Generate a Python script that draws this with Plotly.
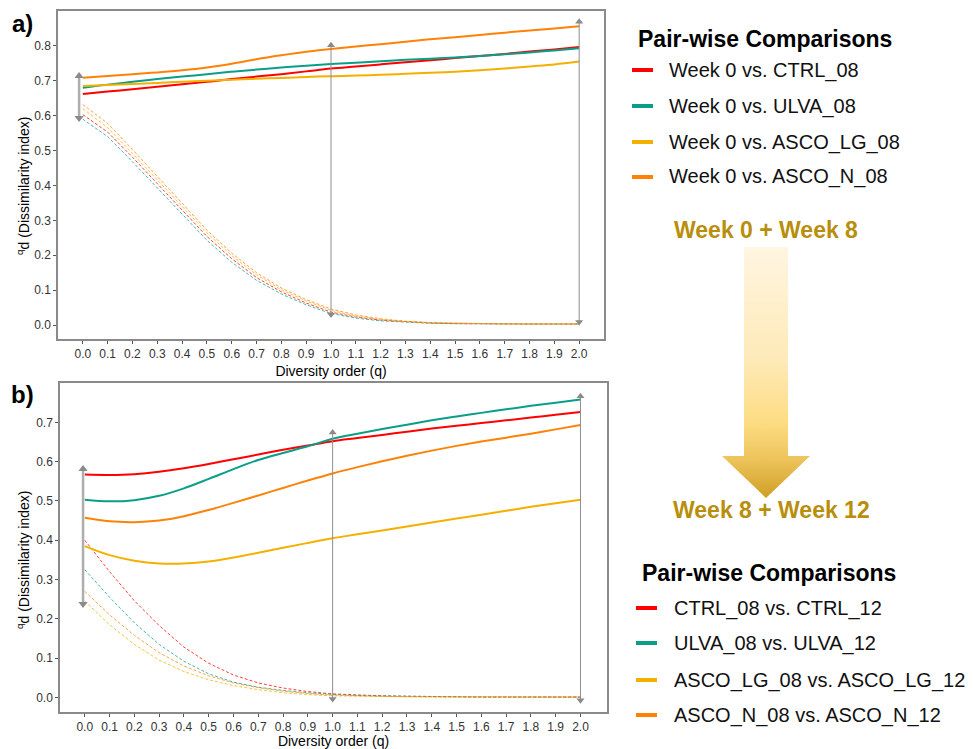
import plotly.graph_objects as go

W, H = 973, 749

# ---------------- data ----------------
q = [round(i * 0.1, 1) for i in range(21)]

series_names = ["CTRL", "ULVA", "ASCO_LG", "ASCO_N"]
colors = {"CTRL": "#FF0000", "ULVA": "#0A9E88", "ASCO_LG": "#F3B000", "ASCO_N": "#FF8207"}

legend_a = ["Week 0 vs. CTRL_08", "Week 0 vs. ULVA_08", "Week 0 vs. ASCO_LG_08", "Week 0 vs. ASCO_N_08"]
legend_b = ["CTRL_08 vs. CTRL_12", "ULVA_08 vs. ULVA_12", "ASCO_LG_08 vs. ASCO_LG_12", "ASCO_N_08 vs. ASCO_N_12"]

# panel a, solid lines (dissimilarity)
a_solid = {
    "CTRL":    [0.662, 0.669, 0.676, 0.683, 0.690, 0.697, 0.705, 0.712, 0.719, 0.727, 0.735, 0.741, 0.747, 0.753, 0.759, 0.765, 0.771, 0.777, 0.784, 0.790, 0.797],
    "ULVA":    [0.680, 0.689, 0.697, 0.705, 0.712, 0.719, 0.726, 0.732, 0.738, 0.743, 0.748, 0.752, 0.756, 0.760, 0.763, 0.767, 0.771, 0.776, 0.781, 0.787, 0.793],
    "ASCO_LG": [0.685, 0.688, 0.691, 0.694, 0.697, 0.700, 0.703, 0.706, 0.708, 0.711, 0.713, 0.715, 0.717, 0.720, 0.723, 0.726, 0.730, 0.735, 0.741, 0.747, 0.755],
    "ASCO_N":  [0.709, 0.714, 0.719, 0.724, 0.730, 0.738, 0.749, 0.762, 0.773, 0.783, 0.791, 0.798, 0.805, 0.812, 0.819, 0.825, 0.831, 0.838, 0.844, 0.850, 0.856],
}
# panel a, dashed lines
a_dash = {
    "CTRL":    [0.603, 0.553, 0.481, 0.405, 0.327, 0.254, 0.190, 0.136, 0.095, 0.063, 0.037, 0.023, 0.014, 0.009, 0.006, 0.004, 0.003, 0.003, 0.003, 0.003, 0.003],
    "ULVA":    [0.590, 0.540, 0.468, 0.393, 0.315, 0.243, 0.180, 0.128, 0.089, 0.058, 0.033, 0.020, 0.012, 0.008, 0.005, 0.004, 0.003, 0.003, 0.003, 0.003, 0.003],
    "ASCO_LG": [0.620, 0.566, 0.492, 0.416, 0.338, 0.264, 0.199, 0.144, 0.101, 0.069, 0.042, 0.026, 0.016, 0.010, 0.007, 0.005, 0.004, 0.003, 0.003, 0.003, 0.003],
    "ASCO_N":  [0.632, 0.578, 0.503, 0.426, 0.347, 0.272, 0.206, 0.150, 0.106, 0.073, 0.046, 0.029, 0.018, 0.011, 0.007, 0.005, 0.004, 0.003, 0.003, 0.003, 0.003],
}
# panel b, solid lines
b_solid = {
    "CTRL":    [0.567, 0.566, 0.568, 0.574, 0.583, 0.594, 0.606, 0.618, 0.630, 0.641, 0.652, 0.660, 0.668, 0.676, 0.684, 0.691, 0.698, 0.705, 0.712, 0.719, 0.726],
    "ULVA":    [0.503, 0.499, 0.502, 0.513, 0.532, 0.556, 0.581, 0.604, 0.622, 0.639, 0.658, 0.671, 0.683, 0.694, 0.705, 0.715, 0.724, 0.733, 0.742, 0.750, 0.758],
    "ASCO_LG": [0.385, 0.362, 0.348, 0.341, 0.341, 0.346, 0.356, 0.368, 0.381, 0.393, 0.405, 0.415, 0.425, 0.435, 0.445, 0.455, 0.465, 0.475, 0.485, 0.494, 0.503],
    "ASCO_N":  [0.457, 0.448, 0.446, 0.450, 0.461, 0.477, 0.495, 0.514, 0.533, 0.552, 0.570, 0.586, 0.601, 0.615, 0.628, 0.640, 0.651, 0.661, 0.671, 0.682, 0.693],
}
# panel b, dashed lines
b_dash = {
    "CTRL":    [0.400, 0.320, 0.246, 0.183, 0.128, 0.087, 0.057, 0.037, 0.024, 0.015, 0.009, 0.006, 0.004, 0.003, 0.002, 0.002, 0.001, 0.001, 0.001, 0.001, 0.001],
    "ULVA":    [0.325, 0.255, 0.190, 0.135, 0.092, 0.060, 0.039, 0.026, 0.018, 0.012, 0.008, 0.005, 0.004, 0.003, 0.002, 0.002, 0.001, 0.001, 0.001, 0.001, 0.001],
    "ASCO_LG": [0.245, 0.185, 0.135, 0.095, 0.066, 0.045, 0.030, 0.020, 0.012, 0.007, 0.004, 0.003, 0.002, 0.002, 0.001, 0.001, 0.001, 0.001, 0.001, 0.001, 0.001],
    "ASCO_N":  [0.270, 0.210, 0.158, 0.114, 0.080, 0.055, 0.037, 0.025, 0.016, 0.010, 0.006, 0.004, 0.003, 0.002, 0.002, 0.001, 0.001, 0.001, 0.001, 0.001, 0.001],
}

# range arrows (q position, low, high)
a_arrow_q = [-0.015, 1.0, 2.0]
a_arrow_lo = [0.593, 0.030, 0.009]
a_arrow_hi = [0.714, 0.802, 0.869]
b_arrow_q = [-0.007, 1.0, 2.0]
b_arrow_lo = [0.238, -0.004, -0.007]
b_arrow_hi = [0.581, 0.674, 0.766]

x_ticks = [round(i * 0.1, 1) for i in range(21)]
x_tick_text = ["%.1f" % v for v in x_ticks]
a_y_ticks = [round(i * 0.1, 1) for i in range(9)]
b_y_ticks = [round(i * 0.1, 1) for i in range(8)]

x_title = "Diversity order (q)"
y_title = "<sup>q</sup>d (Dissimilarity index)"

# ---------------- helpers ----------------
def px(x):
    return x / W

def py(y):
    return 1 - y / H

FONT = "Liberation Sans, Arial, Helvetica, sans-serif"

fig = go.Figure()

def add_panel(solid, dash, xa, ya):
    for s in series_names:
        fig.add_trace(go.Scatter(x=q, y=dash[s], mode="lines", xaxis=xa, yaxis=ya,
                                 line=dict(color=colors[s], width=1, dash="3px,2px"),
                                 opacity=0.75, showlegend=False, hoverinfo="skip"))
    for s in series_names:
        fig.add_trace(go.Scatter(x=q, y=solid[s], mode="lines", xaxis=xa, yaxis=ya,
                                 line=dict(color=colors[s], width=2, shape="spline"),
                                 showlegend=False, hoverinfo="skip"))

def add_arrows(qs, lo, hi, xa, ya):
    for i, (xq, l, h) in enumerate(zip(qs, lo, hi)):
        first = i == 0
        fig.add_trace(go.Scatter(
            x=[xq, xq], y=[l, h], mode="lines+markers", xaxis=xa, yaxis=ya,
            line=dict(color="#ADADAD" if first else "#8E8E8E", width=2.5 if first else 1),
            marker=dict(symbol=["triangle-down", "triangle-up"], size=8 if first else 7,
                        color="#8A8A8A", line=dict(width=0)),
            showlegend=False, hoverinfo="skip"))

add_panel(a_solid, a_dash, "x", "y")
add_panel(b_solid, b_dash, "x2", "y2")
add_arrows(a_arrow_q, a_arrow_lo, a_arrow_hi, "x", "y")
add_arrows(b_arrow_q, b_arrow_lo, b_arrow_hi, "x2", "y2")

# gradient arrow between the two legends (drawn on a hidden helper axis in pixel units)
fig.add_trace(go.Scatter(
    x=[744, 788, 788, 810, 766, 722, 744, 744],
    y=[247, 247, 456, 456, 498, 456, 456, 247],
    xaxis="x3", yaxis="y3", mode="lines", line=dict(width=0),
    fill="toself",
    fillgradient=dict(type="vertical",
                      colorscale=[[0, "#CF9E25"], [0.15, "#ECC35A"], [0.3, "#FDDC82"], [0.55, "#FEEAB8"], [1, "#FFF5E1"]]),
    showlegend=False, hoverinfo="skip"))

axis_common = dict(showgrid=False, zeroline=False, showline=True, mirror=True,
                   linecolor="#8A8A8A", linewidth=1.5, ticks="outside", ticklen=3,
                   tickcolor="#555555", tickfont=dict(family=FONT, size=12, color="#333333"))
xt = dict(text=x_title, font=dict(family=FONT, size=14, color="black"), standoff=6)

fig.update_layout(
    width=W, height=H,
    margin=dict(l=0, r=0, t=0, b=0),
    paper_bgcolor="white", plot_bgcolor="white",
    showlegend=False,
    font=dict(family=FONT),
    xaxis=dict(domain=[px(58), px(604)], range=[-0.1, 2.1], anchor="y", title=xt,
               tickvals=x_ticks, ticktext=x_tick_text, **axis_common),
    yaxis=dict(domain=[py(339), py(11)], range=[-0.04, 0.9], anchor="x",
               tickvals=a_y_ticks, tickformat=".1f", **axis_common),
    xaxis2=dict(domain=[px(60), px(607)], range=[-0.1, 2.107], anchor="y2", title=xt,
                tickvals=x_ticks, ticktext=x_tick_text, **axis_common),
    yaxis2=dict(domain=[py(712), py(383)], range=[-0.037, 0.8], anchor="x2",
                tickvals=b_y_ticks, tickformat=".1f", **axis_common),
    xaxis3=dict(domain=[px(700), px(830)], range=[700, 830], visible=False, anchor="y3"),
    yaxis3=dict(domain=[py(530), py(230)], range=[530, 230], visible=False, anchor="x3"),
)

annotations = []

def text(x, y, s, size, color="black", bold=False, xanchor="center", angle=0):
    annotations.append(dict(
        x=px(x), y=py(y), xref="paper", yref="paper", text=("<b>%s</b>" % s) if bold else s,
        showarrow=False, xanchor=xanchor, yanchor="middle", textangle=angle,
        font=dict(family=FONT, size=size, color=color)))

# panel labels
text(22, 23, "a)", 24, bold=True)
text(22, 394, "b)", 24, bold=True)
# y axis titles
text(23, 186, y_title, 14, angle=-90)
text(23, 560, y_title, 14, angle=-90)

# legends
gold = "#B88E0B"
text(636, 39, "Pair-wise Comparisons", 23, bold=True, xanchor="left")
for i, (lab, s) in enumerate(zip(legend_a, series_names)):
    yy = [70, 106, 142, 177][i]
    text(667, yy, lab, 20, color="#111111", xanchor="left")
    fig.add_shape(type="line", xref="paper", yref="paper", x0=px(632), x1=px(653), y0=py(yy), y1=py(yy),
                  line=dict(color=colors[s], width=4))
text(766, 230, "Week 0 + Week 8", 23, color=gold, bold=True)
text(771, 510, "Week 8 + Week 12", 23, color=gold, bold=True)
text(640, 573, "Pair-wise Comparisons", 23, bold=True, xanchor="left")
for i, (lab, s) in enumerate(zip(legend_b, series_names)):
    yy = [608, 643, 680, 715][i]
    text(672, yy, lab, 20, color="#111111", xanchor="left")
    fig.add_shape(type="line", xref="paper", yref="paper", x0=px(636), x1=px(657), y0=py(yy), y1=py(yy),
                  line=dict(color=colors[s], width=4))

fig.update_layout(annotations=annotations)

fig.write_html("out.html")
